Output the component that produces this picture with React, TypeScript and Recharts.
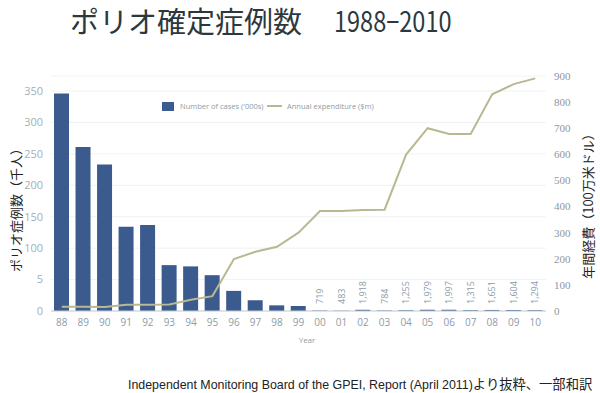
import { ComposedChart, Bar, Line, XAxis, YAxis, CartesianGrid, LabelList } from "recharts";

const years = ["88", "89", "90", "91", "92", "93", "94", "95", "96", "97", "98", "99", "00", "01", "02", "03", "04", "05", "06", "07", "08", "09", "10"];
// polio cases, thousands
const cases = [346, 261, 233, 134, 137, 73, 71, 57, 32, 17, 9, 8, 0.719, 0.483, 1.918, 0.784, 1.255, 1.979, 1.997, 1.315, 1.651, 1.604, 1.294];
const caseLabels = ["", "", "", "", "", "", "", "", "", "", "", "", "719", "483", "1,918", "784", "1,255", "1,979", "1,997", "1,315", "1,651", "1,604", "1,294"];
// annual expenditure, $m
const expenditure = [16, 16, 15, 24, 24, 25, 43, 57, 199, 227, 246, 300, 383, 383, 387, 388, 599, 700, 678, 678, 830, 869, 891];
const leftTicks = [0, 50, 100, 150, 200, 250, 300, 350];
const rightTicks = [0, 100, 200, 300, 400, 500, 600, 700, 800, 900];

const data = years.map((y, i) => ({ year: y, cases: cases[i], label: caseLabels[i], spend: expenditure[i] }));

const BAR = "#3b5b8f";
const LINE = "#b9b892";
const GREY = "#8e9ca7";

const CaseLabel = (props: any) => {
  const { x, width, value } = props;
  if (!value) return null;
  const cx = x + width / 2;
  const y = 304;
  return (
    <text
      x={cx}
      y={y}
      transform={`rotate(-90, ${cx}, ${y})`}
      textAnchor="start"
      dominantBaseline="central"
      fill={GREY}
      fontSize={9}
      fontFamily="Open Sans"
    >
      {value}
    </text>
  );
};

export default function App() {
  return (
    <div style={{ position: "absolute", left: 0, top: 0, width: 600, height: 393, background: "#fff", overflow: "hidden" }}>
      <div style={{ position: "absolute", left: 70, top: 1, fontFamily: "'Noto Sans CJK JP'", fontSize: 29, color: "#2c383e", whiteSpace: "nowrap", lineHeight: "38px" }}>
        ポリオ確定症例数
      </div>
      <div style={{ position: "absolute", left: 334, top: 1, fontFamily: "'Noto Sans CJK JP'", fontSize: 28, color: "#2c383e", whiteSpace: "nowrap", lineHeight: "38px", transform: "scaleX(0.84)", transformOrigin: "left center" }}>
        1988−2010
      </div>

      <ComposedChart width={600} height={393} data={data} margin={{ top: 76, right: 0, bottom: 52, left: 0 }} barSize={15}>
        <CartesianGrid yAxisId="left" vertical={false} stroke="#eef2f4" />
        <XAxis
          dataKey="year"
          height={30}
          axisLine={{ stroke: "#c5cdd3" }}
          tickLine={false}
          interval={0}
          tick={{ fill: GREY, fontSize: 10, fontFamily: "Open Sans" }}
        />
        <YAxis
          yAxisId="left"
          width={51}
          domain={[0, 374]}
          ticks={leftTicks}
          axisLine={false}
          tickLine={false}
          tickFormatter={(v) => (v === 50 ? "5" : String(v))}
          tick={{ fill: "#a3afb8", fontSize: 11, fontFamily: "Open Sans" }}
        />
        <YAxis
          yAxisId="right"
          orientation="right"
          width={54}
          domain={[0, 900]}
          ticks={rightTicks}
          axisLine={false}
          tickLine={false}
          tick={{ fill: "#8c979f", fontSize: 11, fontFamily: "Liberation Serif" }}
        />
        <Bar yAxisId="left" dataKey="cases" fill={BAR} isAnimationActive={false}>
          <LabelList dataKey="label" content={<CaseLabel />} />
        </Bar>
        <Line yAxisId="right" type="linear" dataKey="spend" stroke={LINE} strokeWidth={2} dot={false} isAnimationActive={false} />
      </ComposedChart>

      {/* legend */}
      <div style={{ position: "absolute", left: 162, top: 102, width: 12, height: 9, background: BAR }} />
      <div style={{ position: "absolute", left: 180, top: 100, fontFamily: "Open Sans", fontSize: 7.5, color: GREY, whiteSpace: "nowrap", lineHeight: "12px" }}>
        Number of cases ('000s)
      </div>
      <div style={{ position: "absolute", left: 267, top: 105, width: 15, height: 2, background: LINE }} />
      <div style={{ position: "absolute", left: 287, top: 100, fontFamily: "Open Sans", fontSize: 7.5, color: GREY, whiteSpace: "nowrap", lineHeight: "12px" }}>
        Annual expenditure ($m)
      </div>

      {/* axis titles */}
      <div style={{ position: "absolute", left: 15, top: 207, transform: "translate(-50%, -50%) rotate(-90deg)", fontFamily: "'Noto Sans CJK JP'", fontSize: 13, color: "#1e2326", whiteSpace: "nowrap" }}>
        ポリオ症例数（千人）
      </div>
      <div style={{ position: "absolute", left: 587, top: 203, transform: "translate(-50%, -50%) rotate(-90deg)", fontFamily: "'Noto Sans CJK JP'", fontSize: 13, color: "#1e2326", whiteSpace: "nowrap" }}>
        年間経費（100万米ドル）
      </div>
      <div style={{ position: "absolute", left: 307, top: 339, transform: "translate(-50%, -50%)", fontFamily: "Open Sans", fontSize: 8, color: GREY }}>
        Year
      </div>

      <div style={{ position: "absolute", left: 128, top: 376, color: "#222", whiteSpace: "nowrap", lineHeight: "16px" }}>
        <span style={{ fontFamily: "'Liberation Sans'", fontSize: 12.4 }}>Independent Monitoring Board of the GPEI, Report (April 2011)</span>
        <span style={{ fontFamily: "'Noto Sans CJK JP'", fontSize: 13.3 }}>より抜粋、一部和訳</span>
      </div>
    </div>
  );
}
